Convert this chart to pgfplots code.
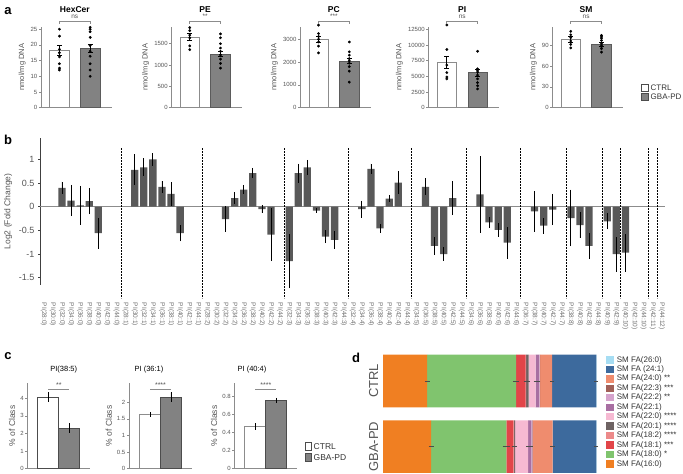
\documentclass[border=0pt]{standalone}
\usepackage{fontspec}
\setmainfont{Liberation Sans}
\usepackage{pgfplots}
\pgfplotsset{compat=1.18}

\definecolor{axgray}{HTML}{8C8C8C}
\definecolor{lblgray}{HTML}{555555}
\definecolor{ticklbl}{HTML}{707070}
\definecolor{gbagray}{HTML}{828282}
\definecolor{bdark}{HTML}{595959}
\definecolor{faA}{HTML}{F07F22}% 16:0
\definecolor{faB}{HTML}{80C46E}% 18:0
\definecolor{faC}{HTML}{E24549}% 18:1
\definecolor{faD}{HTML}{EC8A8A}% 18:2
\definecolor{faE}{HTML}{6E6363}% 20:1
\definecolor{faF}{HTML}{F6B9D2}% 22:0
\definecolor{faG}{HTML}{A86FA2}% 22:1
\definecolor{faH}{HTML}{D5A3CC}% 22:2
\definecolor{faI}{HTML}{A06058}% 22:3
\definecolor{faJ}{HTML}{EF8C6E}% 24:0
\definecolor{faK}{HTML}{3D6A9D}% 24:1
\definecolor{faL}{HTML}{A6DDF3}% 26:0

\newcommand\fs[1]{\fontsize{#1}{#1}\selectfont}

\pgfplotsset{
  /pgf/number format/assume math mode=true,
  /pgf/number format/1000 sep={},
  every axis/.append style={scale only axis, anchor=south west, clip=false},
  minibar/.style={
    axis lines=left, axis line style={-, draw=axgray, line width=0.8pt},
    xtick=\empty, ytick style={draw=axgray, line width=0.6pt},
    tick align=outside, major tick length=2pt,
    yticklabel style={font=\fs{6}, text=lblgray, inner sep=1.5pt},
    ylabel style={font=\fs{7.5}, text=lblgray},
    scaled y ticks=false, ymin=0,
  },
  abar/.style={ybar, bar width=0.63, line width=0.7pt,
    error bars/y dir=both, error bars/y explicit,
    error bars/error bar style={draw=black, line width=0.8pt},
    error bars/error mark options={rotate=90, mark size=2.4pt, draw=black, line width=0.8pt}},
  cbar/.style={ybar, bar width=1, line width=0.7pt,
    error bars/y dir=both, error bars/y explicit,
    error bars/error bar style={draw=black, line width=0.8pt},
    error bars/error mark=none},
  bbar/.style={ybar, bar width=0.8, fill=bdark, draw=none,
    error bars/y dir=both, error bars/y explicit,
    error bars/error bar style={draw=black, line width=0.8pt},
    error bars/error mark=none},
  dbar/.style={draw=none,
    error bars/x dir=both, error bars/x explicit,
    error bars/error bar style={draw=black!70, line width=0.5pt},
    error bars/error mark options={mark size=1.2pt, draw=black!70, line width=0.5pt}},
  dots/.style={only marks, mark=*, mark size=1.2pt, black},
}

\begin{document}
\begin{tikzpicture}
\useasboundingbox (0pt,0pt) rectangle (683pt,474pt);

% ---------------- panel a ----------------
\begin{axis}[minibar, at={(41pt,366.3pt)}, width=70.7pt, height=81pt,
  xmin=-0.6, xmax=1.7, ymax=25.8, ytick={0,5,...,25}, ylabel={nmol/mg DNA}]
\addplot[abar, fill=white, draw=axgray] coordinates {(0,18.4) +- (0,1.6)};
\addplot[abar, fill=gbagray, draw=gbagray!70!black] coordinates {(1,18.9) +- (0,1.4)};
\addplot[dots] coordinates {(0,25) (0,22.8) (0,18.6) (0,17.5) (0,16.2) (0,14) (0,12.6) (0,12)};
\addplot[dots] coordinates {(1,25.6) (1,25) (1,24.2) (1,22.4) (1,19.8) (1,18) (1,16.4) (1,14) (1,12) (1,10)};
\end{axis}

\begin{axis}[minibar, at={(171.3pt,366.3pt)}, width=70.7pt, height=81pt,
  xmin=-0.6, xmax=1.7, ymax=1900, ytick={0,500,1000,1500}, ylabel={nmol/mg DNA}]
\addplot[abar, fill=white, draw=axgray] coordinates {(0,1660) +- (0,75)};
\addplot[abar, fill=gbagray, draw=gbagray!70!black] coordinates {(1,1260) +- (0,65)};
\addplot[dots] coordinates {(0,1880) (0,1810) (0,1700) (0,1640) (0,1450) (0,1360)};
\addplot[dots] coordinates {(1,1730) (1,1640) (1,1500) (1,1400) (1,1320) (1,1240) (1,1140) (1,1040) (1,930)};
\end{axis}

\begin{axis}[minibar, at={(300.1pt,366.3pt)}, width=70.7pt, height=81pt,
  xmin=-0.6, xmax=1.7, ymax=3550, ytick={0,1000,2000,3000}, ylabel={nmol/mg DNA}]
\addplot[abar, fill=white, draw=axgray] coordinates {(0,3000) +- (0,140)};
\addplot[abar, fill=gbagray, draw=gbagray!70!black] coordinates {(1,2050) +- (0,120)};
\addplot[dots] coordinates {(0,3620) (0,3250) (0,3120) (0,3000) (0,2880) (0,2700) (0,2400)};
\addplot[dots] coordinates {(1,2880) (1,2450) (1,2300) (1,2150) (1,2050) (1,1950) (1,1800) (1,1600) (1,1120)};
\end{axis}

\begin{axis}[minibar, at={(428.4pt,366.3pt)}, width=70.7pt, height=81pt,
  xmin=-0.6, xmax=1.7, ymax=12930, ytick={0,2500,5000,7500,10000,12500}, ylabel={nmol/mg DNA}]
\addplot[abar, fill=white, draw=axgray] coordinates {(0,7200) +- (0,1000)};
\addplot[abar, fill=gbagray, draw=gbagray!70!black] coordinates {(1,5600) +- (0,550)};
\addplot[dots] coordinates {(0,13200) (0,9300) (0,6800) (0,5600) (0,4900) (0,4600)};
\addplot[dots] coordinates {(1,9000) (1,6200) (1,6000) (1,5700) (1,5200) (1,4600) (1,4000) (1,3500) (1,3000)};
\end{axis}

\begin{axis}[minibar, at={(552.3pt,366.3pt)}, width=70.7pt, height=81pt,
  xmin=-0.6, xmax=1.7, ymax=116.6, ytick={0,30,60,90}, ylabel={nmol/mg DNA}]
\addplot[abar, fill=white, draw=axgray] coordinates {(0,98) +- (0,4)};
\addplot[abar, fill=gbagray, draw=gbagray!70!black] coordinates {(1,91) +- (0,3)};
\addplot[dots] coordinates {(0,110) (0,105) (0,101) (0,96) (0,91) (0,86)};
\addplot[dots] coordinates {(1,104) (1,102) (1,100) (1,97) (1,93) (1,90) (1,88) (1,85) (1,80)};
\end{axis}

% ---------------- panel b ----------------
\begin{axis}[at={(40pt,189.2pt)}, width=625.4pt, height=146.7pt,
  xmin=-0.42, xmax=68.4, ymin=-1.65, ymax=1.45,
  axis lines=left, axis line style={-, draw=black!75, line width=0.8pt},
  x axis line style={draw=none},
  xtick={0,...,68}, xtick style={draw=none},
  xticklabels={PI(28:0),PI(30:0),PI(32:0),PI(34:0),PI(36:0),PI(38:0),PI(40:0),PI(42:0),PI(44:0),
    PI(28:1),PI(30:1),PI(32:1),PI(34:1),PI(36:1),PI(38:1),PI(40:1),PI(42:1),PI(44:1),
    PI(28:2),PI(30:2),PI(32:2),PI(34:2),PI(36:2),PI(38:2),PI(40:2),PI(42:2),PI(44:2),
    PI(32:3),PI(34:3),PI(36:3),PI(38:3),PI(40:3),PI(42:3),PI(44:3),
    PI(32:4),PI(34:4),PI(36:4),PI(38:4),PI(40:4),PI(42:4),PI(44:4),
    PI(34:5),PI(36:5),PI(38:5),PI(40:5),PI(42:5),PI(44:5),
    PI(34:6),PI(36:6),PI(38:6),PI(40:6),PI(42:6),PI(44:6),
    PI(36:7),PI(38:7),PI(40:7),PI(42:7),PI(44:7),
    PI(38:8),PI(40:8),PI(42:8),PI(44:8),
    PI(40:9),PI(42:9),
    PI(40:10),PI(42:10),PI(44:10),
    PI(42:11),
    PI(44:12)},
  xticklabel style={rotate=-90, anchor=west, font=\fs{6.5}, text=ticklbl, inner sep=0pt},
  xticklabel shift=16pt,
  ytick={-1.5,-1,-0.5,0,0.5,1}, ytick style={draw=black!75, line width=0.6pt},
  tick align=outside, major tick length=2pt,
  yticklabel style={font=\fs{9}, text=lblgray},
  ylabel={Log2 (Fold Change)}, ylabel style={font=\fs{8.5}, text=lblgray},
]
\draw[axgray, line width=0.9pt] (axis cs:-0.42,0) -- (axis cs:68.4,0);
\addplot[bbar] coordinates {
  (2,0.40) +- (0,0.13) (3,0.13) +- (0,0.33) (4,0.03) +- (0,0.41) (5,0.12) +- (0,0.28) (6,-0.56) +- (0,0.33)
  (10,0.78) +- (0,0.33) (11,0.83) +- (0,0.19) (12,1.00) +- (0,0.13) (13,0.42) +- (0,0.12) (14,0.27) +- (0,0.25) (15,-0.56) +- (0,0.17)
  (20,-0.26) +- (0,0.27) (21,0.18) +- (0,0.13) (22,0.36) +- (0,0.10) (23,0.71) +- (0,0.11) (24,-0.05) +- (0,0.08) (25,-0.59) +- (0,0.56)
  (27,-1.15) +- (0,0.57) (28,0.71) +- (0,0.20) (29,0.83) +- (0,0.16) (30,-0.08) +- (0,0.05) (31,-0.63) +- (0,0.14) (32,-0.70) +- (0,0.19)
  (35,-0.05) +- (0,0.18) (36,0.80) +- (0,0.11) (37,-0.46) +- (0,0.09) (38,0.17) +- (0,0.08) (39,0.51) +- (0,0.25)
  (42,0.42) +- (0,0.18) (43,-0.83) +- (0,0.18) (44,-1.00) +- (0,0.14) (45,0.18) +- (0,0.36)
  (48,0.26) +- (0,0.81) (49,-0.33) +- (0,0.12) (50,-0.49) +- (0,0.14) (51,-0.76) +- (0,0.34)
  (54,-0.10) +- (0,0.43) (55,-0.40) +- (0,0.17) (56,-0.06) +- (0,0.33)
  (58,-0.24) +- (0,0.60) (59,-0.39) +- (0,0.27) (60,-0.83) +- (0,0.28)
  (62,-0.31) +- (0,0.17) (63,-1.00) +- (0,0.37)
  (64,-0.97) +- (0,0.40)
};
\pgfplotsinvokeforeach{8.5,17.5,26.5,33.5,40.5,46.5,52.5,57.5,61.5,63.5,66.5,67.5}{
  \draw[black, line width=1pt, dash pattern=on 1.5pt off 1.5pt] (axis cs:#1,1.24) -- (axis cs:#1,-1.93);
}
\end{axis}

% ---------------- panel c ----------------
\begin{axis}[minibar, at={(27.3pt,5.3pt)}, width=63pt, height=85.7pt,
  xmin=-1, xmax=2, ymax=4.87, ytick={0,1,2,3,4}, ylabel={\% of Class}, ylabel style={font=\fs{8.5}}]
\addplot[cbar, fill=white, draw=black!70] coordinates {(0,4.05) +- (0,0.28)};
\addplot[cbar, fill=gbagray, draw=black!70] coordinates {(1,2.30) +- (0,0.28)};
\end{axis}

\begin{axis}[minibar, at={(129pt,5.3pt)}, width=63pt, height=85.7pt,
  xmin=-1, xmax=2, ymax=2.58, ytick={0,0.5,1,1.5,2}, ylabel={\% of Class}, ylabel style={font=\fs{8.5}}]
\addplot[cbar, fill=white, draw=axgray] coordinates {(0,1.63) +- (0,0.07)};
\addplot[cbar, fill=gbagray, draw=black!70] coordinates {(1,2.15) +- (0,0.15)};
\end{axis}

\begin{axis}[minibar, at={(234.3pt,5.3pt)}, width=63pt, height=85.7pt,
  xmin=-1, xmax=2, ymax=0.952, ytick={0,0.2,0.4,0.6,0.8}, ylabel={\% of Class}, ylabel style={font=\fs{8.5}}]
\addplot[cbar, fill=white, draw=axgray] coordinates {(0,0.47) +- (0,0.04)};
\addplot[cbar, fill=gbagray, draw=black!70] coordinates {(1,0.76) +- (0,0.03)};
\end{axis}

% ---------------- panel d ----------------
\begin{axis}[at={(383pt,1pt)}, width=213.7pt, height=118.3pt,
  xbar stacked, bar width=0.8, xmin=0, xmax=100, ymin=-0.4, ymax=1.4,
  hide x axis, axis y line=left, y axis line style={draw=none},
  ytick={0,1}, yticklabels={GBA-PD,CTRL}, ytick style={draw=none},
  yticklabel style={rotate=90, anchor=south, font=\fs{13}, text=lblgray, inner sep=2.5pt},
]
\addplot[dbar, fill=faA] coordinates {(20.7,1) +- (0.6,0) (22.5,0) +- (0.6,0)};
\addplot[dbar, fill=faB] coordinates {(41.6,1) +- (1.0,0) (35.2,0) +- (1.2,0)};
\addplot[dbar, fill=faC] coordinates {(4.4,1) +- (0.3,0) (3.3,0) +- (0.3,0)};
\addplot[fill=faD, draw=none] coordinates {(0.3,1) (0.3,0)};
\addplot[dbar, fill=faE] coordinates {(1.1,1) +- (0.2,0) (0.5,0) +- (0.2,0)};
\addplot[dbar, fill=faF] coordinates {(3.3,1) +- (0.3,0) (6.1,0) +- (0.3,0)};
\addplot[dbar, fill=faG] coordinates {(1.5,1) +- (0.2,0) (1.5,0) +- (0.2,0)};
\addplot[fill=faH, draw=none] coordinates {(0.4,1) (0.5,0)};
\addplot[fill=faI, draw=none] coordinates {(0.2,1) (0.2,0)};
\addplot[dbar, fill=faJ] coordinates {(5.6,1) +- (0.4,0) (9.3,0) +- (0.5,0)};
\addplot[dbar, fill=faK] coordinates {(20.7,1) +- (0.3,0) (20.4,0) +- (0.3,0)};
\addplot[fill=faL, draw=none] coordinates {(0.2,1) (0.2,0)};
\end{axis}

% ---------------- annotations ----------------
\begin{scope}[x=1pt,y=1pt]
% panel letters
\node[font=\bfseries\fs{13}] at (8,463) {a};
\node[font=\bfseries\fs{13}] at (8,334) {b};
\node[font=\bfseries\fs{13}] at (8,118) {c};
\node[font=\bfseries\fs{13}] at (356,116) {d};

% panel a titles and significance
\foreach \L/\T/\S in {41/HexCer/ns, 171.3/PE/**, 300.1/PC/***, 428.4/PI/ns, 552.3/SM/ns}{
  \node[font=\bfseries\fs{8.5}] at (\L+33.8,464.7) {\T};
  \draw[axgray, line width=0.7pt] (\L+18.4,450) -- (\L+18.4,453) -- (\L+49.2,453) -- (\L+49.2,450);
  \node[font=\fs{6.5}, text=lblgray, anchor=base] at (\L+33.8,455) {\S};
}

% legend a
\draw[black!70, fill=white, line width=0.5pt] (641.7,383) rectangle (648.5,390);
\draw[black!70, fill=gbagray, line width=0.5pt] (641.7,373.5) rectangle (648.5,380.5);
\node[font=\fs{8}, anchor=west, inner sep=1pt, text=black!80] at (649.5,386.5) {CTRL};
\node[font=\fs{8}, anchor=west, inner sep=1pt, text=black!80] at (649.5,377) {GBA-PD};

% panel c titles and significance
\node[font=\fs{7.5}] at (63.7,104) {PI(38:5)};
\node[font=\fs{7.5}] at (149,104) {PI (36:1)};
\node[font=\fs{7.5}] at (252,104) {PI (40:4)};
\foreach \L/\S in {27.3/**, 129/****, 234.3/****}{
  \draw[axgray, line width=0.7pt] (\L+21,84.7) -- (\L+42,84.7);
  \node[font=\fs{7}, text=lblgray, anchor=base, inner sep=0pt] at (\L+31.5,86) {\S};
}

% legend c
\draw[black!70, fill=white, line width=0.5pt] (305,23.5) rectangle (311.5,31.5);
\draw[black!70, fill=gbagray, line width=0.5pt] (305,12.9) rectangle (311.5,20.9);
\node[font=\fs{8.5}, anchor=west, inner sep=1pt, text=black!80] at (312.5,27.3) {CTRL};
\node[font=\fs{8.5}, anchor=west, inner sep=1pt, text=black!80] at (312.5,16.7) {GBA-PD};

% legend d
\foreach \k/\c/\t in {0/faL/{SM FA(26:0)}, 1/faK/{SM FA (24:1)}, 2/faJ/{SM FA(24:0) **},
  3/faI/{SM FA(22:3) ***}, 4/faH/{SM FA(22:2) **}, 5/faG/{SM FA(22:1)},
  6/faF/{SM FA(22:0) ****}, 7/faE/{SM FA(20:1) ****}, 8/faD/{SM FA(18:2) ****},
  9/faC/{SM FA(18:1) ***}, 10/faB/{SM FA(18:0) *}, 11/faA/{SM FA(16:0)}}{
  \fill[\c] (605.7,114-9.45*\k-3.7) rectangle (614.4,114-9.45*\k+3.7);
  \node[font=\fs{8}, anchor=west, inner sep=0pt, text=black!80] at (616.7,114-9.45*\k) {\t};
}
\end{scope}
\end{tikzpicture}
\end{document}
